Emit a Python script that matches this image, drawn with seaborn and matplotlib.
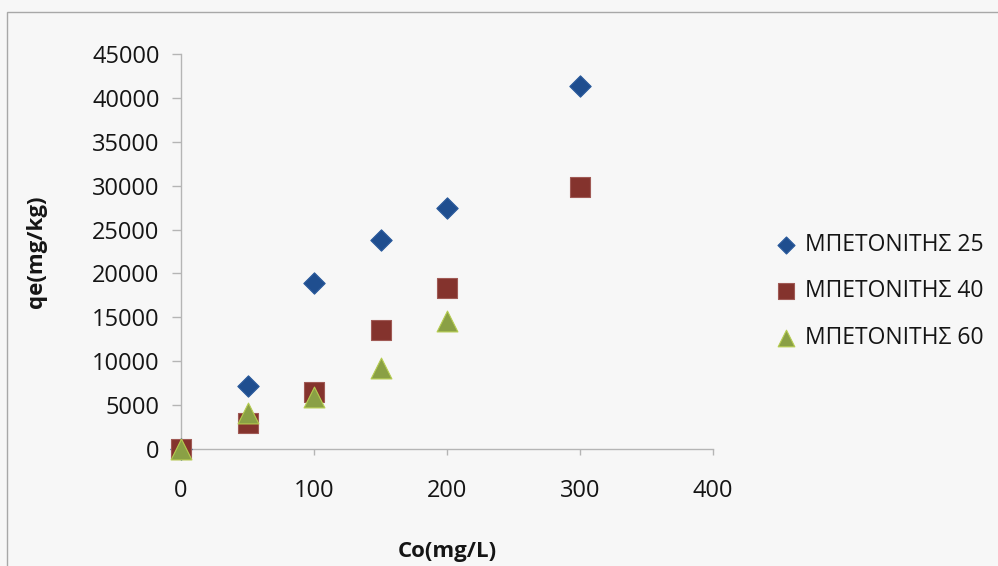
import matplotlib
matplotlib.use("Agg")
import matplotlib.pyplot as plt
from matplotlib.patches import Rectangle
import seaborn as sns
import pandas as pd

# Initial concentration Co (mg/L) and sorbed amount qe (mg/kg)
co_25 = [0, 50, 100, 150, 200, 300]
qe_25 = [0, 7200, 18900, 23750, 27400, 41400]

co_40 = [0, 50, 100, 150, 200, 300]
qe_40 = [0, 2950, 6550, 13500, 18350, 29800]

co_60 = [0, 50, 100, 150, 200]
qe_60 = [0, 4150, 5950, 9250, 14600]

series_names = ["ΜΠΕΤΟΝΙΤΗΣ 25", "ΜΠΕΤΟΝΙΤΗΣ 40", "ΜΠΕΤΟΝΙΤΗΣ 60"]
x_ticks = [0, 100, 200, 300, 400]
y_ticks = [0, 5000, 10000, 15000, 20000, 25000, 30000, 35000, 40000, 45000]

frames = []
for name, xs, ys in zip(series_names, [co_25, co_40, co_60], [qe_25, qe_40, qe_60]):
    frames.append(pd.DataFrame({"Co": xs, "qe": ys, "series": name}))
df = pd.concat(frames, ignore_index=True)

sns.set_theme(style="white")
plt.rcParams["font.family"] = ["Open Sans", "DejaVu Sans"]
plt.rcParams["font.size"] = 17

bg = "#f7f7f7"
text_color = "#151515"
axis_color = "#b5b5b5"

fig = plt.figure(figsize=(9.98, 5.66), dpi=100, facecolor=bg)
ax = fig.add_axes([0.1814, 0.2067, 0.533, 0.698], facecolor=bg)

styles = {
    "ΜΠΕΤΟΝΙΤΗΣ 25": dict(marker="D", s=118, color="#1f4e8f", edgecolor="#2a5a9c"),
    "ΜΠΕΤΟΝΙΤΗΣ 40": dict(marker="s", s=215, color="#84332d", edgecolor="#a05a55"),
    "ΜΠΕΤΟΝΙΤΗΣ 60": dict(marker="^", s=225, color="#8aa045", edgecolor="#b5cc50"),
}

for name in series_names:
    st = styles[name]
    sub = df[df["series"] == name]
    sns.scatterplot(
        data=sub, x="Co", y="qe", ax=ax, label=name,
        marker=st["marker"], s=st["s"], color=st["color"],
        edgecolor=st["edgecolor"], linewidth=0.8, clip_on=False, zorder=3,
    )

ax.set_xlim(0, 400)
ax.set_ylim(0, 45000)
ax.set_xticks(x_ticks)
ax.set_yticks(y_ticks)
ax.set_xticklabels([str(v) for v in x_ticks])
ax.set_yticklabels([str(v) for v in y_ticks])

for side in ["top", "right"]:
    ax.spines[side].set_visible(False)
for side in ["left", "bottom"]:
    ax.spines[side].set_color(axis_color)
    ax.spines[side].set_linewidth(1.0)

ax.tick_params(axis="y", direction="out", length=6.5, width=1, color=axis_color,
               pad=9, labelsize=17, labelcolor=text_color, left=True)
ax.tick_params(axis="x", direction="out", length=4.3, width=1, color=axis_color,
               pad=17, labelsize=17, labelcolor=text_color, bottom=True)
ax.grid(False)

ax.set_xlabel("Co(mg/L)", fontsize=16, fontweight="bold", color=text_color)
ax.set_ylabel("qe(mg/kg)", fontsize=16, fontweight="bold", color=text_color)
ax.xaxis.set_label_coords(0.5, -0.233)
ax.yaxis.set_label_coords(-0.252, 0.5)

leg = ax.legend(
    loc="center left", bbox_to_anchor=(0.7786, 0.485), bbox_transform=fig.transFigure,
    frameon=False, borderaxespad=0, borderpad=0, handlelength=0.8,
    handletextpad=0.4, labelspacing=1.0, markerscale=0.8, fontsize=16.5,
)
for t in leg.get_texts():
    t.set_color(text_color)

# outer chart border
fig.patches.append(Rectangle((7 / 998, -0.01), 1.0, (566 - 12) / 566 + 0.01,
                             transform=fig.transFigure, fill=False,
                             edgecolor="#a8a8a8", linewidth=1.0))

fig.savefig("out.png", dpi=100, facecolor=bg)
